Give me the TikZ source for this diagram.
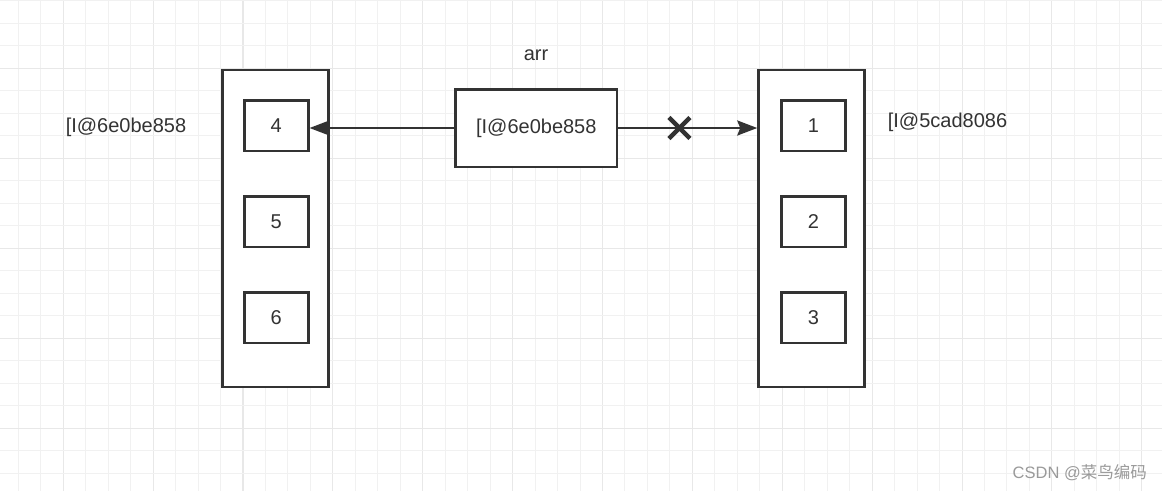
\documentclass[tikz,border=0pt]{standalone}
\usepackage{fontspec}
\setmainfont{Liberation Sans}
\newfontfamily\cjkfont{Noto Sans CJK SC}
\usetikzlibrary{arrows.meta,calc}
\definecolor{ink}{HTML}{333333}
\definecolor{gridminor}{HTML}{F1F1F1}
\definecolor{gridmajor}{HTML}{E8E8E8}
\definecolor{wm}{HTML}{9A9A9A}
\tikzset{
  box/.style={draw=ink, line width=2.5pt, fill=white, minimum width=64pt, minimum height=50.5pt, inner sep=0pt, text=ink, font=\fontsize{20}{24}\selectfont},
  bigbox/.style={draw=ink, line width=2.5pt, fill=white, minimum width=106pt, minimum height=317pt, inner sep=0pt},
  midbox/.style={draw=ink, line width=2.5pt, fill=white, minimum width=161.5pt, minimum height=77.5pt, inner sep=0pt, text=ink, font=\fontsize{20}{24}\selectfont},
  lbl/.style={text=ink, inner sep=0pt, font=\fontsize{20}{24}\selectfont},
  conn/.style={draw=ink, line width=2.5pt, -{Stealth[length=20pt, width=15pt, inset=3pt]}},
  xmark/.style={draw=ink, line width=4.5pt},
}
\begin{document}
\begin{tikzpicture}[x=1pt, y=-1pt]
\useasboundingbox (0,0) rectangle (1162,491);
\fill[white] (0,0) rectangle (1162,491);
% grid
\foreach \k in {0,...,51}{
  \pgfmathsetmacro{\gx}{18.3+22.47*\k}
  \pgfmathtruncatemacro{\m}{mod(\k,4)}
  \ifnum\m=2
    \draw[gridmajor, line width=1.1pt] (\gx,0) -- (\gx,491);
  \else
    \draw[gridminor, line width=1pt] (\gx,0) -- (\gx,491);
  \fi
}
\foreach \k in {0,...,21}{
  \pgfmathsetmacro{\gy}{0.8+22.5*\k}
  \pgfmathtruncatemacro{\m}{mod(\k,4)}
  \ifnum\m=3
    \draw[gridmajor, line width=1.1pt] (0,\gy) -- (1162,\gy);
  \else
    \draw[gridminor, line width=1pt] (0,\gy) -- (1162,\gy);
  \fi
}
% left array
\node[bigbox] (L) at (275.3,228.5) {};
\node[box] (b4) at (276.3,125.5) {4};
\node[box] (b5) at (276.3,221.5) {5};
\node[box] (b6) at (276.3,317.5) {6};
% right array
\node[bigbox] (R) at (811.5,228.5) {};
\node[box] (b1) at (813.5,125.5) {1};
\node[box] (b2) at (813.5,221.5) {2};
\node[box] (b3) at (813.5,317.5) {3};
% middle variable
\node[midbox] (mid) at (536.3,128) {[I@6e0be858};
\node[lbl] (arr) at (536,55) {arr};
% labels
\node[lbl] (lL) at (126,127) {[I@6e0be858};
\node[lbl] (lR) at (947.5,122) {[I@5cad8086};
% connectors
\draw[conn] (mid.west) -- (mid.west -| b4.east);
\draw[conn] (mid.east) -- (mid.east -| R.west);
\coordinate (cut) at ($(mid.east)!0.44!(mid.east -| R.west)$);
\draw[xmark] ([shift={(-10.5,-10.5)}]cut) -- ([shift={(10.5,10.5)}]cut);
\draw[xmark] ([shift={(-10.5,10.5)}]cut) -- ([shift={(10.5,-10.5)}]cut);
% watermark
\node[text=wm, inner sep=0pt, anchor=east, font=\fontsize{16.5}{20}\selectfont] (wmk) at (1147,472.5) {CSDN @{\cjkfont 菜鸟编码}};
\end{tikzpicture}
\end{document}
